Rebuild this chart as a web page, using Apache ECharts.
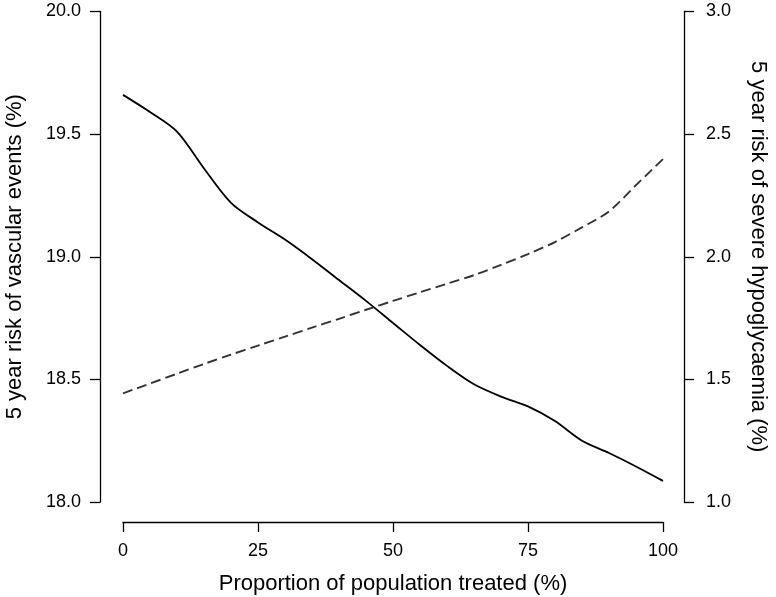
<!DOCTYPE html>
<html>
<head>
<meta charset="utf-8">
<script src="https://cdn.jsdelivr.net/npm/echarts@6/dist/echarts.min.js"></script>
<style>
html,body{margin:0;padding:0;background:#fff;}
#chart{width:776px;height:597px;}
</style>
</head>
<body>
<div id="chart"></div>
<script>
const proportionTreated = [0,5,10,15,20,25,30,35,40,45,50,55,60,65,70,75,80,85,90,95,100];
const vascularRisk = [19.66,19.59,19.51,19.36,19.22,19.14,19.07,18.99,18.905,18.82,18.73,18.64,18.555,18.48,18.43,18.39,18.33,18.25,18.20,18.145,18.086];
const hypoglycaemiaRisk = [1.443,1.483,1.523,1.563,1.601,1.638,1.674,1.711,1.747,1.784,1.820,1.855,1.890,1.925,1.967,2.011,2.060,2.120,2.185,2.292,2.398];
const xTitle = 'Proportion of population treated (%)';
const leftTitle = '5 year risk of vascular events (%)';
const rightTitle = '5 year risk of severe hypoglycaemia (%)';

const FONT = '"Liberation Sans", Arial, Helvetica, sans-serif';
const chart = echarts.init(document.getElementById('chart'), null, {renderer:'canvas'});
const axisLineStyle = {color:'#000', width:1.3};
const labelStyle = {color:'#000', fontSize:18, fontFamily:FONT};
const nameStyle = {color:'#000', fontSize:22, fontFamily:FONT};

chart.setOption({
  animation:false,
  backgroundColor:'#fff',
  grid:{left:123, right:113, top:11.5, bottom:95, containLabel:false, outerBoundsMode:'none'},
  xAxis:{
    type:'value', min:0, max:100, interval:25, offset:20,
    name:xTitle, nameLocation:'middle', nameGap:51, nameTextStyle:nameStyle,
    axisLine:{show:true, onZero:false, lineStyle:axisLineStyle},
    axisTick:{show:true, length:10, lineStyle:axisLineStyle},
    axisLabel:{...labelStyle, margin:20},
    splitLine:{show:false}
  },
  yAxis:[{
    type:'value', min:18, max:20, interval:0.5, offset:23, position:'left',
    name:leftTitle, nameLocation:'middle', nameGap:74, nameTextStyle:nameStyle,
    axisLine:{show:true, onZero:false, lineStyle:axisLineStyle},
    axisTick:{show:true, length:10, lineStyle:axisLineStyle},
    axisLabel:{...labelStyle, margin:19, formatter:v=>v.toFixed(1)},
    splitLine:{show:false}
  },{
    type:'value', min:1, max:3, interval:0.5, offset:21, position:'right',
    name:rightTitle, nameLocation:'middle', nameGap:63, nameRotate:-90, nameTextStyle:nameStyle,
    axisLine:{show:true, onZero:false, lineStyle:axisLineStyle},
    axisTick:{show:true, length:10, lineStyle:axisLineStyle},
    axisLabel:{...labelStyle, margin:22, formatter:v=>v.toFixed(1)},
    splitLine:{show:false}
  }],
  series:[{
    type:'line', yAxisIndex:0, smooth:0.3, showSymbol:false,
    data:proportionTreated.map((x,i)=>[x,vascularRisk[i]]),
    lineStyle:{color:'#000', width:1.8}
  },{
    type:'line', yAxisIndex:1, smooth:0.3, showSymbol:false,
    data:proportionTreated.map((x,i)=>[x,hypoglycaemiaRisk[i]]),
    lineStyle:{color:'#333', width:1.9, type:[10,5]}
  }]
});
</script>
</body>
</html>
